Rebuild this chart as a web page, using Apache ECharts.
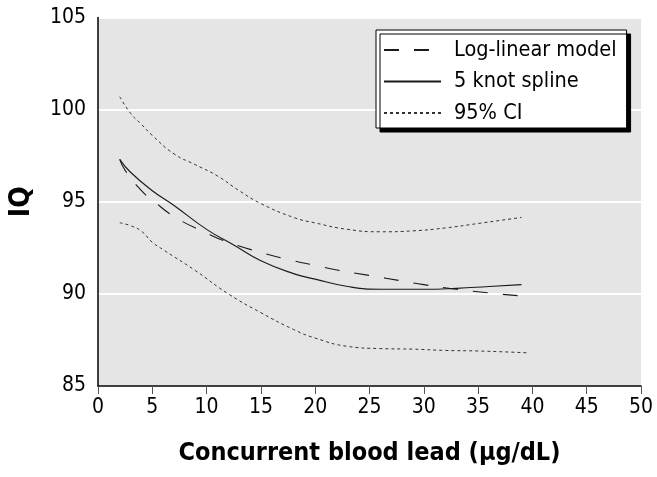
<!DOCTYPE html>
<html><head><meta charset="utf-8">
<script src="https://cdn.jsdelivr.net/npm/echarts@6/dist/echarts.min.js"></script>
<style>html,body{margin:0;padding:0;background:#fff}#c{width:657px;height:477px}</style>
</head><body><div id="c"></div>
<script>
var xTicks = [0,5,10,15,20,25,30,35,40,45,50];
var yTicks = [85,90,95,100,105];
var logLinear = [[2,97.3],[2.5,96.7],[4,95.6],[5,95.1],[7,94.2],[10,93.3],[12,92.8],[15,92.25],[18,91.8],[20,91.55],[22,91.3],[25,91.0],[28,90.7],[30,90.5],[33,90.25],[36,90.05],[38.7,89.9]];
var spline = [[2,97.3],[3,96.6],[5,95.6],[7,94.8],[10,93.5],[12.5,92.65],[15,91.8],[18,91.1],[20,90.8],[23,90.4],[26,90.25],[30,90.25],[33,90.3],[36,90.4],[39,90.5]];
var upperCI = [[2,100.7],[3,99.8],[4,99.2],[5,98.6],[7,97.6],[9,97.0],[11,96.4],[13,95.6],[15,94.9],[18,94.15],[20,93.85],[23,93.5],[26,93.37],[29,93.42],[32,93.58],[35,93.82],[39,94.15]];
var lowerCI = [[2,93.86],[3,93.7],[4,93.4],[5,92.8],[6,92.4],[9,91.25],[12,90.0],[15,88.98],[18,88.07],[20,87.6],[23,87.15],[26,87.03],[29,87.0],[32,86.93],[35,86.9],[39.6,86.8]];
var names = ['Log-linear model','5 knot spline','95% CI'];

var FONT = '"DejaVu Sans Condensed","Liberation Sans Narrow",sans-serif';
var chart = echarts.init(document.getElementById('c'));
chart.setOption({
  animation:false,
  grid:{left:93,right:16,top:17.5,bottom:91,show:true,backgroundColor:'#e5e5e5',borderWidth:0},
  legend:{
    orient:'vertical',left:376,top:30,width:250,
    data:names,
    backgroundColor:'#fff',borderColor:'#000',borderWidth:1,
    shadowColor:'#000',shadowBlur:0,shadowOffsetX:4,shadowOffsetY:4,
    padding:[9,10,4,7],itemGap:9.5,itemWidth:57,itemHeight:22,
    itemStyle:{opacity:0},
    textStyle:{fontFamily:FONT,fontSize:21.5,color:'#000',padding:[0,0,0,8]},
    inactiveColor:'#000'
  },
  xAxis:{type:'value',min:0,max:50,interval:5,
    axisLine:{lineStyle:{color:'#000',width:1.5}},
    axisTick:{show:true,length:8,lineStyle:{color:'#555',width:1}},
    axisLabel:{fontFamily:FONT,fontSize:21,color:'#000',margin:11,formatter:function(v){return xTicks.indexOf(v)>=0?String(v):'';}},
    splitLine:{show:false},
    name:'Concurrent blood lead (\u03bcg/dL)',nameLocation:'middle',nameGap:55,
    nameTextStyle:{fontFamily:FONT,fontSize:25,fontWeight:'bold',color:'#000'}
  },
  yAxis:{type:'value',min:85,max:105,interval:5,
    axisLine:{show:true,lineStyle:{color:'#000',width:1.5}},
    axisTick:{show:false},
    axisLabel:{fontFamily:FONT,fontSize:21,color:'#000',margin:12,formatter:function(v){return yTicks.indexOf(v)>=0?String(v):'';}},
    splitLine:{show:true,lineStyle:{color:'#fff',width:2}},
    name:'IQ',nameLocation:'middle',nameGap:62,nameRotate:90,
    nameTextStyle:{fontFamily:FONT,fontSize:28,fontWeight:'bold',color:'#000'}
  },
  series:[
    {name:names[0],type:'line',data:logLinear,smooth:true,symbol:'none',
      lineStyle:{color:'#1a1a1a',width:1.1,type:[15,15]},itemStyle:{color:'#1a1a1a'}},
    {name:names[1],type:'line',data:spline,smooth:true,symbol:'none',
      lineStyle:{color:'#1a1a1a',width:1.1,type:'solid'},itemStyle:{color:'#1a1a1a'}},
    {name:names[2],type:'line',data:upperCI,smooth:true,symbol:'none',
      lineStyle:{color:'#333',width:1,type:[3,3]},itemStyle:{color:'#333'}},
    {name:names[2],type:'line',data:lowerCI,smooth:true,symbol:'none',
      lineStyle:{color:'#333',width:1,type:[3,3]},itemStyle:{color:'#333'}}
  ]
});
</script></body></html>
